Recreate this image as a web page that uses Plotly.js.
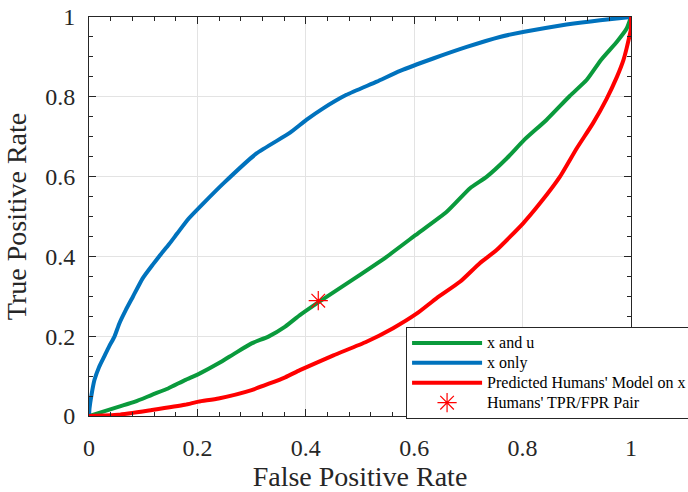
<!DOCTYPE html>
<html>
<head>
<meta charset="utf-8">
<script src="https://cdn.plot.ly/plotly-3.0.1.min.js"></script>
<style>html,body{margin:0;padding:0;background:#fff;}#chart{width:688px;height:492px;}</style>
</head>
<body>
<div id="chart"></div>
<script>
// Data
const seriesNames = ["x and u", "x only", "Predicted Humans' Model on x", "Humans' TPR/FPR Pair"];

const greenFPR = [0, 0.054, 0.085, 0.116, 0.146, 0.177, 0.202, 0.239, 0.269, 0.300, 0.331, 0.362, 0.389, 0.423, 0.488, 0.549, 0.603, 0.660, 0.703, 0.734, 0.771, 0.803, 0.844, 0.887, 0.918, 0.945, 0.974, 0.992, 1];
const greenTPR = [0, 0.023, 0.036, 0.053, 0.069, 0.090, 0.105, 0.132, 0.157, 0.182, 0.199, 0.224, 0.253, 0.285, 0.343, 0.399, 0.454, 0.512, 0.571, 0.600, 0.646, 0.692, 0.742, 0.802, 0.842, 0.893, 0.938, 0.971, 1];

const blueFPR = [0, 0.001, 0.004, 0.010, 0.019, 0.028, 0.037, 0.047, 0.056, 0.068, 0.081, 0.099, 0.118, 0.130, 0.148, 0.163, 0.184, 0.211, 0.248, 0.309, 0.371, 0.401, 0.432, 0.475, 0.531, 0.574, 0.635, 0.697, 0.758, 0.803, 0.881, 0.943, 1];
const blueTPR = [0, 0.020, 0.048, 0.090, 0.124, 0.149, 0.174, 0.199, 0.232, 0.266, 0.299, 0.345, 0.380, 0.401, 0.431, 0.458, 0.495, 0.533, 0.583, 0.658, 0.710, 0.742, 0.771, 0.805, 0.838, 0.865, 0.896, 0.925, 0.950, 0.963, 0.981, 0.992, 1];

const redFPR = [0, 0.054, 0.116, 0.177, 0.202, 0.239, 0.300, 0.362, 0.389, 0.451, 0.512, 0.561, 0.605, 0.641, 0.685, 0.721, 0.752, 0.801, 0.832, 0.869, 0.900, 0.930, 0.955, 0.974, 0.986, 0.992, 1.0, 1];
const redTPR = [0, 0.003, 0.015, 0.028, 0.036, 0.044, 0.065, 0.097, 0.115, 0.152, 0.186, 0.220, 0.257, 0.295, 0.337, 0.383, 0.416, 0.483, 0.533, 0.600, 0.671, 0.734, 0.795, 0.850, 0.892, 0.922, 0.971, 1];

const humanFPR = [0.423];
const humanTPR = [0.289];

const tickVals = [0, 0.2, 0.4, 0.6, 0.8, 1];
const tickText = ["0", "0.2", "0.4", "0.6", "0.8", "1"];

const serif = "'Liberation Serif', 'Times New Roman', serif";

// legend labels drawn at 16px while rows are spaced more tightly
const legendLabel = s => '<span style="font-size:16px">' + s + '</span>';

const lineShape = {shape: 'spline', smoothing: 0.5};

const traces = [
  {x: greenFPR, y: greenTPR, name: legendLabel(seriesNames[0]), mode: 'lines', line: Object.assign({color: '#0a9a3c', width: 4}, lineShape)},
  {x: blueFPR, y: blueTPR, name: legendLabel(seriesNames[1]), mode: 'lines', line: Object.assign({color: '#0072bd', width: 4}, lineShape)},
  {x: redFPR, y: redTPR, name: legendLabel(seriesNames[2]), mode: 'lines', line: Object.assign({color: '#ff0000', width: 4}, lineShape)},
  {x: humanFPR, y: humanTPR, name: legendLabel(seriesNames[3]), mode: 'markers',
   marker: {symbol: 'asterisk-open', size: 16, color: '#ff0000', line: {color: '#ff0000', width: 1.2}}}
];

function makeAxis(extra) {
  const a = {
    range: [0, 1],
    tickvals: tickVals,
    ticktext: tickText,
    ticks: 'inside',
    ticklen: 7,
    tickwidth: 1,
    tickcolor: '#262626',
    showline: true,
    linecolor: '#262626',
    linewidth: 1,
    mirror: 'ticks',
    showgrid: true,
    gridcolor: '#e3e3e3',
    gridwidth: 1,
    zeroline: false,
    tickfont: {family: serif, size: 24, color: '#262626'},
    fixedrange: true
  };
  return Object.assign(a, extra);
}

const layout = {
  width: 688, height: 492,
  margin: {l: 89, r: 57, t: 17, b: 76, autoexpand: false},
  paper_bgcolor: '#ffffff',
  plot_bgcolor: '#ffffff',
  font: {family: serif, color: '#262626'},
  showlegend: true,
  xaxis: makeAxis({
    title: {text: 'False Positive Rate', font: {family: serif, size: 28, color: '#262626'}, standoff: 8},
    ticklabelstandoff: 10,
    minor: {dtick: 0.04, ticks: 'inside', ticklen: 4, tickcolor: '#262626', showgrid: false}
  }),
  yaxis: makeAxis({
    title: {text: 'True Positive Rate', font: {family: serif, size: 28, color: '#262626'}, standoff: 10},
    ticklabelstandoff: 8,
    minor: {dtick: 0.05, ticks: 'inside', ticklen: 4, tickcolor: '#262626', showgrid: false}
  }),
  legend: {
    x: 0.585, y: 0.223, xanchor: 'left', yanchor: 'top',
    bgcolor: '#ffffff', bordercolor: '#262626', borderwidth: 1,
    font: {family: serif, size: 13, color: '#000000'},
    itemwidth: 70,
    tracegroupgap: 0
  }
};

Plotly.newPlot('chart', traces, layout, {displayModeBar: false, staticPlot: true});
</script>
</body>
</html>
